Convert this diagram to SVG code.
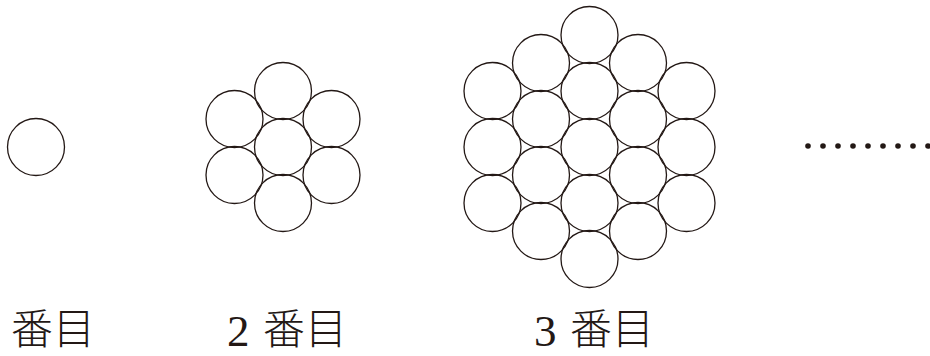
<svg xmlns="http://www.w3.org/2000/svg" width="930" height="356" viewBox="0 0 930 356">
<style>
.c{fill:none;stroke:#231815;stroke-width:1.3}
.d{fill:#231815}
.j{font-family:"Noto Sans CJK JP","Noto Sans CJK SC",sans-serif;font-size:42px;font-weight:300;fill:#231815}
.n{font-family:"Liberation Serif",serif;font-size:45px;fill:#231815}
</style>
<rect width="930" height="356" fill="#fff"/>
<g id="stage1">
<circle class="c" cx="36" cy="147" r="28.5"/>
</g>
<g id="stage2">
<circle class="c" cx="234.5" cy="119" r="28.5"/>
<circle class="c" cx="234.5" cy="175" r="28.5"/>
<circle class="c" cx="283" cy="91" r="28.5"/>
<circle class="c" cx="283" cy="147" r="28.5"/>
<circle class="c" cx="283" cy="203" r="28.5"/>
<circle class="c" cx="331.5" cy="119" r="28.5"/>
<circle class="c" cx="331.5" cy="175" r="28.5"/>
</g>
<g id="stage3">
<circle class="c" cx="492.5" cy="91" r="28.5"/>
<circle class="c" cx="492.5" cy="147" r="28.5"/>
<circle class="c" cx="492.5" cy="203" r="28.5"/>
<circle class="c" cx="541" cy="63" r="28.5"/>
<circle class="c" cx="541" cy="119" r="28.5"/>
<circle class="c" cx="541" cy="175" r="28.5"/>
<circle class="c" cx="541" cy="231" r="28.5"/>
<circle class="c" cx="589.5" cy="35" r="28.5"/>
<circle class="c" cx="589.5" cy="91" r="28.5"/>
<circle class="c" cx="589.5" cy="147" r="28.5"/>
<circle class="c" cx="589.5" cy="203" r="28.5"/>
<circle class="c" cx="589.5" cy="259" r="28.5"/>
<circle class="c" cx="638" cy="63" r="28.5"/>
<circle class="c" cx="638" cy="119" r="28.5"/>
<circle class="c" cx="638" cy="175" r="28.5"/>
<circle class="c" cx="638" cy="231" r="28.5"/>
<circle class="c" cx="686.5" cy="91" r="28.5"/>
<circle class="c" cx="686.5" cy="147" r="28.5"/>
<circle class="c" cx="686.5" cy="203" r="28.5"/>
</g>
<g id="ellipsis">
<circle class="d" cx="808" cy="146" r="2.8"/>
<circle class="d" cx="823" cy="146" r="2.8"/>
<circle class="d" cx="838" cy="146" r="2.8"/>
<circle class="d" cx="853" cy="146" r="2.8"/>
<circle class="d" cx="868" cy="146" r="2.8"/>
<circle class="d" cx="883" cy="146" r="2.8"/>
<circle class="d" cx="898" cy="146" r="2.8"/>
<circle class="d" cx="913" cy="146" r="2.8"/>
<circle class="d" cx="928" cy="146" r="2.8"/>
</g>
<g id="labels">
<text class="j" x="11" y="344">番目</text>
<text y="344"><tspan class="n" x="227" y="346">2</tspan><tspan class="j" x="263" y="344">番目</tspan></text>
<text y="344"><tspan class="n" x="534" y="346">3</tspan><tspan class="j" x="570" y="344">番目</tspan></text>
</g>
</svg>
